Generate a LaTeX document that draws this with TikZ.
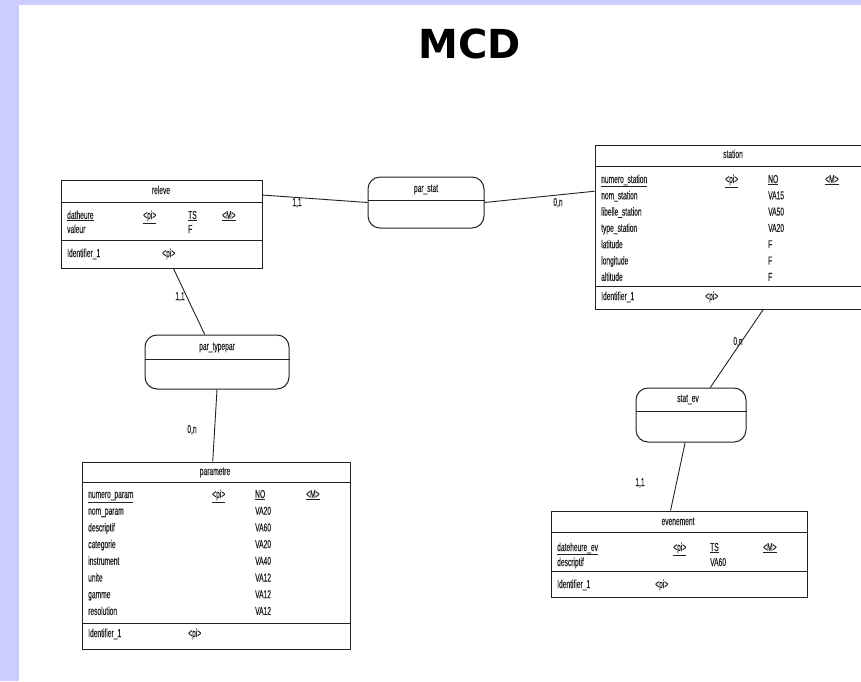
\documentclass[tikz,border=0pt]{standalone}
\usepackage{fontspec}
\newfontfamily\narrowsf[FakeStretch=0.58, FakeBold=0.4]{Liberation Sans}
\newfontfamily\titlesf{DejaVu Sans}

\definecolor{lav}{HTML}{CCCCFF}
\definecolor{ink}{HTML}{222222}

\tikzset{
  box/.style={draw=ink, line width=1pt, inner sep=0pt},
  assoc/.style={draw=ink, line width=1pt, rounded corners=12pt, inner sep=0pt},
  attr/.style={font=\narrowsf\fontsize{11.5}{13}\selectfont, text=ink, inner sep=0pt, text height=8pt, text depth=2pt},
  link/.style={draw=ink, line width=0.9pt},
}

\begin{document}
\begin{tikzpicture}[x=1pt, y=-1pt]
  \useasboundingbox (0,0) rectangle (861,681);
  \clip (0,0) rectangle (861,681);
  \fill[lav] (0,0) rectangle (861,681);
  \fill[white] (19,5) rectangle (861,681);

  % title
  \node[font=\titlesf\bfseries\fontsize{40}{40}\selectfont, anchor=base, inner sep=0pt] (mcd) at (470,58) {MCD};

  % entities
  \node[box, minimum width=201pt, minimum height=88pt] (releve) at (161.5,224) {};
  \node[box, minimum width=286pt, minimum height=164pt] (station) at (738,227) {};
  \node[box, minimum width=268pt, minimum height=187pt] (parametre) at (216,555.5) {};
  \node[box, minimum width=256pt, minimum height=86pt] (evenement) at (679,554) {};

  \draw[ink, line width=1pt] ([yshift=-23pt]releve.north west) -- ([yshift=-23pt]releve.north east);
  \draw[ink, line width=1pt] ([yshift=-61pt]releve.north west) -- ([yshift=-61pt]releve.north east);
  \draw[ink, line width=1pt] ([yshift=-22pt]station.north west) -- ([yshift=-22pt]station.north east);
  \draw[ink, line width=1pt] ([yshift=-142pt]station.north west) -- ([yshift=-142pt]station.north east);
  \draw[ink, line width=1pt] ([yshift=-21pt]parametre.north west) -- ([yshift=-21pt]parametre.north east);
  \draw[ink, line width=1pt] ([yshift=-162pt]parametre.north west) -- ([yshift=-162pt]parametre.north east);
  \draw[ink, line width=1pt] ([yshift=-22pt]evenement.north west) -- ([yshift=-22pt]evenement.north east);
  \draw[ink, line width=1pt] ([yshift=-61pt]evenement.north west) -- ([yshift=-61pt]evenement.north east);

  % associations
  \node[assoc, minimum width=116pt, minimum height=51pt] (parstat) at (426,202.5) {};
  \node[assoc, minimum width=144pt, minimum height=54pt] (partypepar) at (217,362) {};
  \node[assoc, minimum width=110pt, minimum height=54pt] (statev) at (691,415) {};

  \draw[ink, line width=1pt] ([yshift=-24pt]parstat.north west) -- ([yshift=-24pt]parstat.north east);
  \draw[ink, line width=1pt] ([yshift=-25pt]partypepar.north west) -- ([yshift=-25pt]partypepar.north east);
  \draw[ink, line width=1pt] ([yshift=-24pt]statev.north west) -- ([yshift=-24pt]statev.north east);

  \node[attr] (parstat-t) at (426,189) {par\_stat};
  \node[attr] (partypepar-t) at (217,347) {par\_typepar};
  \node[attr] (statev-t) at (688,399) {stat\_ev};

  % releve
  \node[attr] (releve-t) at (161,191) {releve};
  \node[attr, anchor=west] (releve-k) at (67,216) {\underline{datheure}};
  \node[attr, anchor=west] (releve-kp) at (143,216) {\underline{<pi>}};
  \node[attr, anchor=west] (releve-kt) at (188,216) {\underline{TS}};
  \node[attr, anchor=west] (releve-km) at (222,216) {\underline{<M>}};
  \node[attr, anchor=west] (releve-n1) at (67,230) {valeur};
  \node[attr, anchor=west] (releve-t1) at (188,230) {F};
  \node[attr, anchor=west] (releve-id) at (67,254) {Identifier\_1};
  \node[attr, anchor=west] (releve-idp) at (162,254) {<pi>};

  % station
  \node[attr] (station-t) at (733,155) {station};
  \node[attr, anchor=west] (station-k) at (601,180) {\underline{numero\_station}};
  \node[attr, anchor=west] (station-kp) at (725,180) {\underline{<pi>}};
  \node[attr, anchor=west] (station-kt) at (768,180) {\underline{NO}};
  \node[attr, anchor=west] (station-km) at (825,180) {\underline{<M>}};
  \foreach \n/\t [count=\i] in {nom\_station/VA15, libelle\_station/VA50, type\_station/VA20,
      latitude/F, longitude/F, altitude/F} {
    \node[attr, anchor=west] (station-n\i) at (601,{180+16.3*\i}) {\n};
    \node[attr, anchor=west] (station-t\i) at (768,{180+16.3*\i}) {\t};
  }
  \node[attr, anchor=west] (station-id) at (601,297) {Identifier\_1};
  \node[attr, anchor=west] (station-idp) at (705,297) {<pi>};

  % parametre
  \node[attr] (parametre-t) at (215,472) {parametre};
  \node[attr, anchor=west] (parametre-k) at (88,495) {\underline{numero\_param}};
  \node[attr, anchor=west] (parametre-kp) at (212,495) {\underline{<pi>}};
  \node[attr, anchor=west] (parametre-kt) at (255,495) {\underline{NO}};
  \node[attr, anchor=west] (parametre-km) at (306,495) {\underline{<M>}};
  \foreach \n/\t [count=\i] in {nom\_param/VA20, descriptif/VA60, categorie/VA20,
      instrument/VA40, unite/VA12, gamme/VA12, resolution/VA12} {
    \node[attr, anchor=west] (parametre-n\i) at (88,{495+16.7*\i}) {\n};
    \node[attr, anchor=west] (parametre-t\i) at (255,{495+16.7*\i}) {\t};
  }
  \node[attr, anchor=west] (parametre-id) at (88,634) {Identifier\_1};
  \node[attr, anchor=west] (parametre-idp) at (188,634) {<pi>};

  % evenement
  \node[attr] (evenement-t) at (678,522) {evenement};
  \node[attr, anchor=west] (evenement-k) at (557,548) {\underline{dateheure\_ev}};
  \node[attr, anchor=west] (evenement-kp) at (673,548) {\underline{<pi>}};
  \node[attr, anchor=west] (evenement-kt) at (710,548) {\underline{TS}};
  \node[attr, anchor=west] (evenement-km) at (763,548) {\underline{<M>}};
  \node[attr, anchor=west] (evenement-n1) at (557,563) {descriptif};
  \node[attr, anchor=west] (evenement-t1) at (710,563) {VA60};
  \node[attr, anchor=west] (evenement-id) at (557,585) {Identifier\_1};
  \node[attr, anchor=west] (evenement-idp) at (655,585) {<pi>};

  % links
  \draw[link] (releve.16.6) -- (parstat.west);
  \draw[link] (parstat.east) -- (station.166.6);
  \draw[link] (releve.-75.4) -- (partypepar.114);
  \draw[link] (partypepar.south) -- (parametre.92);
  \draw[link] (statev.55) -- (station.-73.7);
  \draw[link] (statev.-102.5) -- (evenement.101.8);

  % cardinalities
  \node[attr] (card1) at (297,203) {1,1};
  \node[attr] (card2) at (558,203) {0,n};
  \node[attr] (card3) at (180,297) {1,1};
  \node[attr] (card4) at (192,430) {0,n};
  \node[attr] (card5) at (738,342) {0,n};
  \node[attr] (card6) at (640,483) {1,1};
\end{tikzpicture}
\end{document}
